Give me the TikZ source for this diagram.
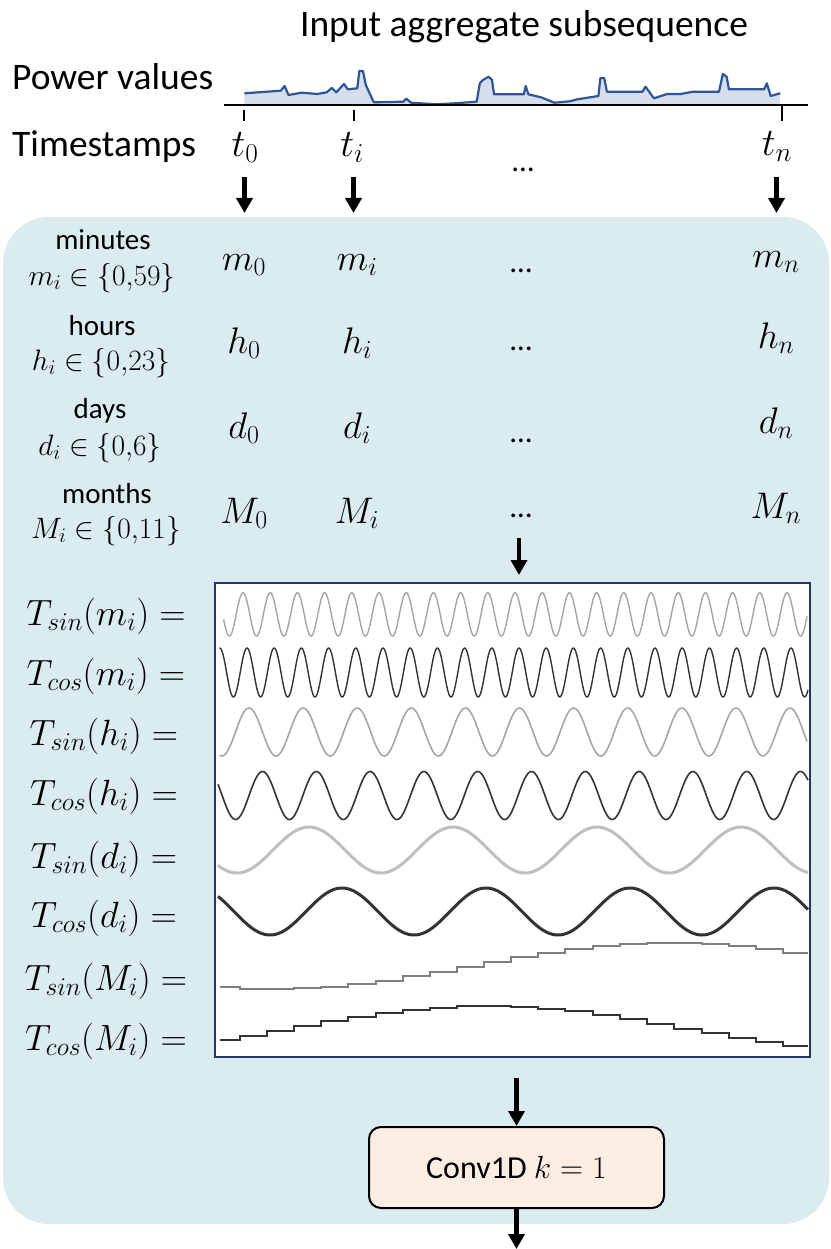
\documentclass[tikz,border=0pt]{standalone}
\usepackage{fix-cm}
\usepackage{fontspec}
\setmainfont{Carlito}
\usetikzlibrary{arrows.meta}
\definecolor{panel}{RGB}{218,236,240}
\definecolor{navy}{RGB}{31,56,100}
\definecolor{convfill}{RGB}{252,237,226}
\definecolor{pline}{RGB}{47,85,151}
\definecolor{pfill}{RGB}{214,221,235}
\definecolor{wlight}{RGB}{166,166,166}
\definecolor{wlighter}{RGB}{191,191,191}
\definecolor{wdark}{RGB}{51,51,51}
\definecolor{wmid}{RGB}{127,127,127}
\tikzset{
  txt/.style={inner sep=0pt, anchor=base},
  bigtxt/.style={txt, font=\fontsize{37.5}{44}\selectfont},
  smalltxt/.style={txt, font=\fontsize{29}{34}\selectfont},
  setmath/.style={txt, font=\fontsize{29.5}{35}\selectfont},
  varmath/.style={txt, font=\fontsize{37}{44}\selectfont},
  tmath/.style={txt, font=\fontsize{39}{46}\selectfont},
  tlab/.style={txt, font=\fontsize{36.5}{42}\selectfont},
  dotstxt/.style={txt, font=\fontsize{31}{36}\selectfont},
  downarrow/.style={line width=4.4pt, -{Triangle[width=16pt,length=15pt]}},
  wave/.style={line join=round},
}
\begin{document}
\begin{tikzpicture}[x=1pt,y=-1pt]
\useasboundingbox (0,0) rectangle (830,1249);
% panel
\fill[panel, rounded corners=46pt] (3,217) rectangle (829,1224);

% title and row labels
\node[bigtxt] (title) at (524,37) {Input aggregate subsequence};
\node[bigtxt, anchor=base west] (power) at (12,90) {Power values};
\node[bigtxt, anchor=base west] (stamps) at (12,157) {Timestamps};

% power curve
\fill[pfill] (244.4,105) -- (244.4,93.3) -- (280.8,90.7) -- (284.6,86) -- (288.5,95) -- (301.8,92.7) -- (317.2,94) -- (326.7,92.3) -- (331.7,88) -- (336.3,92.3) -- (344,84) -- (347.8,89.3) -- (357.3,88.3) -- (359.3,71) -- (363,71) -- (365.8,85) -- (373.8,102.3) -- (403.3,101.7) -- (406.3,98.7) -- (411,102.7) -- (435.8,104.3) -- (455,103.3) -- (476.7,101.7) -- (479.8,83.3) -- (482.9,80) -- (488.6,76.7) -- (492,80) -- (494,94.3) -- (523.8,94.3) -- (525.7,86) -- (528.4,94.3) -- (541,97.3) -- (554.4,102.7) -- (569.7,101.3) -- (577.4,99.3) -- (598.4,96) -- (600.4,78) -- (604.2,78) -- (606.9,91.7) -- (642.5,91.7) -- (645.5,86.7) -- (653.9,98.3) -- (667.3,94) -- (680.7,94) -- (693,91.7) -- (719,91.7) -- (722.8,74) -- (726.6,76.7) -- (728.9,89.3) -- (764.2,89.3) -- (766.8,83.3) -- (770.7,96) -- (780.2,93.3) -- (780.2,105) -- cycle;
\draw[pline, line width=2.2pt, line join=round] (244.4,93.3) -- (280.8,90.7) -- (284.6,86) -- (288.5,95) -- (301.8,92.7) -- (317.2,94) -- (326.7,92.3) -- (331.7,88) -- (336.3,92.3) -- (344,84) -- (347.8,89.3) -- (357.3,88.3) -- (359.3,71) -- (363,71) -- (365.8,85) -- (373.8,102.3) -- (403.3,101.7) -- (406.3,98.7) -- (411,102.7) -- (435.8,104.3) -- (455,103.3) -- (476.7,101.7) -- (479.8,83.3) -- (482.9,80) -- (488.6,76.7) -- (492,80) -- (494,94.3) -- (523.8,94.3) -- (525.7,86) -- (528.4,94.3) -- (541,97.3) -- (554.4,102.7) -- (569.7,101.3) -- (577.4,99.3) -- (598.4,96) -- (600.4,78) -- (604.2,78) -- (606.9,91.7) -- (642.5,91.7) -- (645.5,86.7) -- (653.9,98.3) -- (667.3,94) -- (680.7,94) -- (693,91.7) -- (719,91.7) -- (722.8,74) -- (726.6,76.7) -- (728.9,89.3) -- (764.2,89.3) -- (766.8,83.3) -- (770.7,96) -- (780.2,93.3);
% axis and ticks
\coordinate (axl) at (224,105);
\coordinate (axr) at (808,105);
\draw[line width=2.6pt] (axl) -- (axr);
\coordinate (k0a) at (244,110); \coordinate (k0b) at (244,121);
\coordinate (kia) at (354,110); \coordinate (kib) at (354,121);
\coordinate (kna) at (782,105); \coordinate (knb) at (782,121);
\draw[line width=1.8pt] (k0a) -- (k0b);
\draw[line width=1.8pt] (kia) -- (kib);
\draw[line width=1.8pt] (kna) -- (knb);

% timestamps
\node[tmath] (t0) at (245,157) {$t_0$};
\node[tmath] (ti) at (352,157) {$t_i$};
\node[tmath] (tn) at (777,156) {$t_n$};
\node[dotstxt] (tdots) at (523,172) {…};

% arrows down from timestamps
\coordinate (a0s) at (244.5,177); \coordinate (a0e) at (244.5,213);
\coordinate (ais) at (353.5,177); \coordinate (aie) at (353.5,213);
\coordinate (ans) at (776.5,177); \coordinate (ane) at (776.5,213);
\draw[downarrow] (a0s) -- (a0e);
\draw[downarrow] (ais) -- (aie);
\draw[downarrow] (ans) -- (ane);

% left descriptors
\node[smalltxt] (lmin) at (103,249) {minutes};
\node[setmath] (smin) at (102,285) {$m_i\in\{0{,}59\}$};
\node[smalltxt] (lhour) at (102,335) {hours};
\node[setmath] (shour) at (101,370) {$h_i\in\{0{,}23\}$};
\node[smalltxt] (lday) at (100,418) {days};
\node[setmath] (sday) at (100,455) {$d_i\in\{0{,}6\}$};
\node[smalltxt] (lmon) at (107,503) {months};
\node[setmath] (smon) at (106,538) {$M_i\in\{0{,}11\}$};

% variables
\node[varmath] (m0) at (244,270) {$m_0$};
\node[varmath] (mi) at (357,270) {$m_i$};
\node[dotstxt] (md) at (521,272) {…};
\node[varmath] (mn) at (776,267) {$m_n$};
\node[varmath] (h0) at (244,353) {$h_0$};
\node[varmath] (hi) at (357,353) {$h_i$};
\node[dotstxt] (hd) at (521,350) {…};
\node[varmath] (hn) at (776,348) {$h_n$};
\node[varmath] (d0) at (244,438) {$d_0$};
\node[varmath] (di) at (357,438) {$d_i$};
\node[dotstxt] (dd) at (521,442) {…};
\node[varmath] (dn) at (776,433) {$d_n$};
\node[varmath] (M0) at (244,523) {$M_0$};
\node[varmath] (Mi) at (357,523) {$M_i$};
\node[dotstxt] (Md) at (521,517) {…};
\node[varmath] (Mn) at (776,518) {$M_n$};

% arrow to waves box
\coordinate (wbs) at (519,538); \coordinate (wbe) at (519,575);
\draw[downarrow] (wbs) -- (wbe);

% waves box
\node[draw=navy, fill=white, line width=2.6pt, inner sep=0pt, minimum width=595pt, minimum height=474pt] (wbox) at (512.5,820) {};

% T labels
\node[tlab] (l1) at (106,625) {$T_{sin}(m_i) =$};
\node[tlab] (l2) at (106,685) {$T_{cos}(m_i) =$};
\node[tlab] (l3) at (104,745) {$T_{sin}(h_i) =$};
\node[tlab] (l4) at (104,805) {$T_{cos}(h_i) =$};
\node[tlab] (l5) at (104,868) {$T_{sin}(d_i) =$};
\node[tlab] (l6) at (104,927) {$T_{cos}(d_i) =$};
\node[tlab] (l7) at (106,990) {$T_{sin}(M_i) =$};
\node[tlab] (l8) at (106,1050) {$T_{cos}(M_i) =$};

% waves
\draw[wave, wlight, line width=1.4pt] plot[domain=223.6:807, samples=700] (\x,{614.4-21.7*cos((\x-243)/27.2*360)});
\draw[wave, wdark, line width=1.4pt] plot[domain=219.5:808, samples=700] (\x,{672.5-24.5*cos((\x-247)/27.2*360)});
\draw[wave, wlight, line width=1.6pt] plot[domain=219.7:807, samples=500] (\x,{732-24*cos((\x-249)/54.1*360)});
\draw[wave, wdark, line width=1.6pt] plot[domain=218:808, samples=500] (\x,{795.5-24*cos((\x-262.5)/53.8*360)});
\draw[wave, wlighter, line width=3pt] plot[domain=218:808, samples=300] (\x,{850-23*cos((\x-309)/144*360)});
\draw[wave, wdark, line width=3pt] plot[domain=218:808, samples=300] (\x,{911.5-23.5*cos((\x-342)/144*360)});
\draw[wmid, line width=2pt] plot[const plot, domain=219.7:807.5, samples=800] (\x,{966+23*cos((239+27.2*(floor((\x-239)/27.2)+0.5)-276)/800*360)});
\draw[wdark, line width=2pt] plot[const plot, domain=219.7:807.5, samples=800] (\x,{1029-23*cos((239+27.2*(floor((\x-239)/27.2)+0.5)-490)/800*360)});

% conv block
\coordinate (cvs) at (516.5,1078);
\node[draw=black, fill=convfill, line width=2pt, rounded corners=12pt, minimum width=295pt, minimum height=81pt, inner sep=0pt, font=\fontsize{32}{38}\selectfont] (conv) at (516.5,1167.5) {Conv1D $k=1$};
\draw[downarrow] (cvs) -- (conv.north);
\coordinate (cve) at (516.5,1249);
\draw[downarrow] (conv.south) -- (cve);
\end{tikzpicture}
\end{document}
